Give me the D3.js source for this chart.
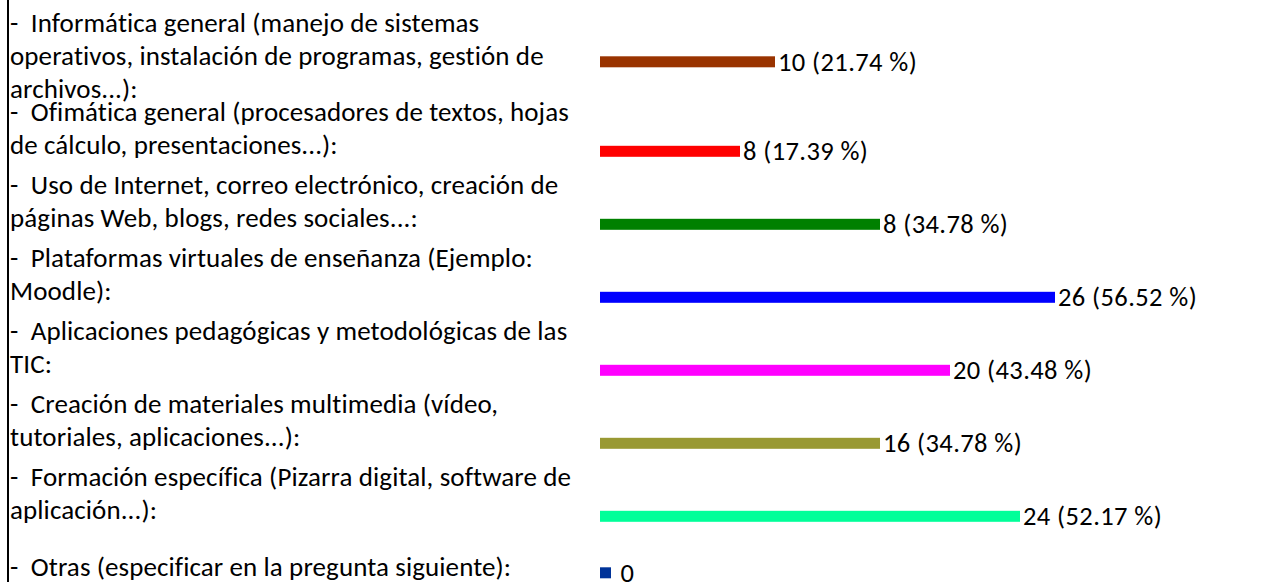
<!DOCTYPE html>
<html>
<head>
<meta charset="utf-8">
<script src="https://cdn.jsdelivr.net/npm/d3@7"></script>
<style>
  html, body { margin: 0; padding: 0; background: #fff; }
  svg { display: block; }
  text { font-family: Carlito, Calibri, Lato, "Open Sans", sans-serif; white-space: pre; }
</style>
</head>
<body>
<svg id="chart" width="1288" height="582"></svg>
<script>
// ---- data ----
const categories = [
  ["-  Informática general (manejo de sistemas", "operativos, instalación de programas, gestión de", "archivos...):"],
  ["-  Ofimática general (procesadores de textos, hojas", "de cálculo, presentaciones...):"],
  ["-  Uso de Internet, correo electrónico, creación de", "páginas Web, blogs, redes sociales...:"],
  ["-  Plataformas virtuales de enseñanza (Ejemplo:", "Moodle):"],
  ["-  Aplicaciones pedagógicas y metodológicas de las", "TIC:"],
  ["-  Creación de materiales multimedia (vídeo,", "tutoriales, aplicaciones...):"],
  ["-  Formación específica (Pizarra digital, software de", "aplicación...):"],
  ["-  Otras (especificar en la pregunta siguiente):"]
];
const barValues = [10, 8, 16, 26, 20, 16, 24, 0];
const countLabels = ["10", "8", "8", "26", "20", "16", "24", "0"];
const percentLabels = ["21.74", "17.39", "34.78", "56.52", "43.48", "34.78", "52.17", null];
const colors = ["#993300", "#FF0000", "#008000", "#0000FF", "#FF00FF", "#999933", "#00FF99", "#003399"];

// ---- layout ----
const W = 1288, H = 582;
const lineH = 33, rowPad = 7, firstTop = 8.8;
const barH = 11;
const labelFont = 27, valueFont = 26.5;

const svg = d3.select("#chart");

// row layout: each row height = lines*lineH + rowPad, bar centred in row
const rows = [];
let acc = firstTop;
categories.forEach((lines, i) => {
  const h = lines.length * lineH + rowPad;
  rows.push({ i, lines, top: acc, h, mid: acc + h / 2 });
  acc += h;
});

const x = d3.scaleLinear().domain([0, 26]).range([600, 1055]);

// left border
svg.append("line")
  .attr("x1", 8).attr("x2", 8).attr("y1", 0).attr("y2", H)
  .attr("stroke", "#000").attr("stroke-width", 2);

// category text
const g = svg.append("g");
rows.forEach(r => {
  const anchor = Math.min(1, r.lines.length - 1);
  const t = g.append("text")
    .attr("font-size", labelFont)
    .attr("letter-spacing", 0.1)
    .attr("fill", "#000");
  r.lines.forEach((ln, k) => {
    t.append("tspan")
      .attr("x", 10)
      .attr("y", r.mid - 6.5 + (k - anchor) * lineH)
      .attr("dominant-baseline", "central")
      .text(ln);
  });
});

// bars
svg.append("g").selectAll("rect")
  .data(rows)
  .join("rect")
  .attr("x", x(0))
  .attr("y", d => d.mid - barH / 2)
  .attr("width", d => Math.max(x(barValues[d.i]) - x(0), barH))
  .attr("height", barH)
  .attr("fill", d => colors[d.i]);

// value labels
svg.append("g").selectAll("text")
  .data(rows)
  .join("text")
  .attr("x", d => x(0) + Math.max(x(barValues[d.i]) - x(0), barH) + 3)
  .attr("y", d => d.mid)
  .attr("dominant-baseline", "central")
  .attr("font-size", valueFont)
  .attr("letter-spacing", 0.4)
  .attr("fill", "#000")
  .text(d => percentLabels[d.i] == null ? " " + countLabels[d.i]
                                         : countLabels[d.i] + " (" + percentLabels[d.i] + " %)");
</script>
</body>
</html>
